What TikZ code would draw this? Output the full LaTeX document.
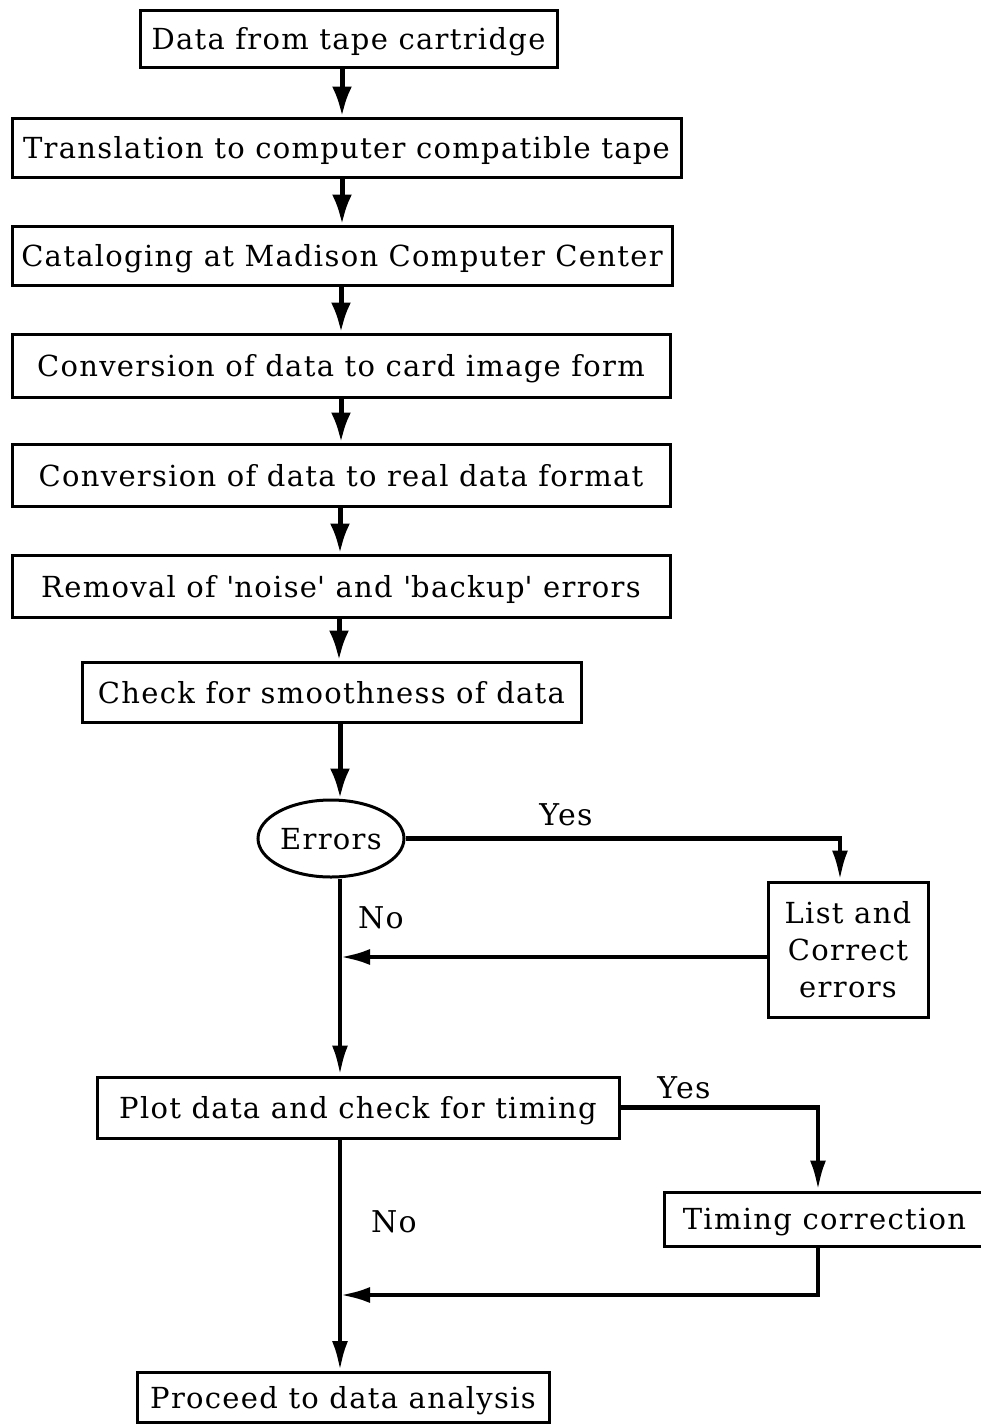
\documentclass[tikz,border=0pt]{standalone}
\usepackage{fontspec}
\setmainfont[LetterSpace=4.5]{DejaVu Serif}
\usetikzlibrary{arrows.meta,shapes.geometric}
\begin{document}
\begin{tikzpicture}[x=1pt,y=-1pt,
  box/.style={draw,line width=3pt,rectangle,inner sep=0pt,text depth=0pt,font=\fontsize{29}{36}\selectfont},
  lbl/.style={font=\fontsize{30}{36}\selectfont,inner sep=0pt},
  flow/.style={line width=5pt,-{Latex[length=30pt,width=20pt]}},
  flowb/.style={line width=4.5pt,-{Latex[length=30pt,width=16pt]}}]
\useasboundingbox (0,0) rectangle (981,1425);
\node[box,minimum width=417pt,minimum height=57pt] (b1) at (348.5,38.5) {Data from tape cartridge};
\node[box,minimum width=669pt,minimum height=59pt] (b2) at (346.5,147.5) {Translation to computer compatible tape};
\node[box,minimum width=660pt,minimum height=59pt] (b3) at (342,255.5) {Cataloging at Madison Computer Center};
\node[box,minimum width=658pt,minimum height=63pt] (b4) at (341,365.5) {Conversion of data to card image form};
\node[box,minimum width=658pt,minimum height=62pt] (b5) at (341,475) {Conversion of data to real data format};
\node[box,minimum width=658pt,minimum height=62pt] (b6) at (341,586) {Removal of \textquotesingle noise\textquotesingle{} and \textquotesingle backup\textquotesingle{} errors};
\node[box,minimum width=499pt,minimum height=60pt] (b7) at (331.5,692) {Check for smoothness of data};
\node[draw,line width=3pt,ellipse,inner sep=0pt,text depth=0pt,minimum width=146pt,minimum height=77pt,font=\fontsize{29}{36}\selectfont] (err) at (331,838.5) {Errors};
\node[box,minimum width=160pt,minimum height=135pt,align=center,font=\fontsize{29}{37}\selectfont] (lce) at (848,949.5) {List and\\Correct\\errors};
\node[box,minimum width=522pt,minimum height=61pt] (plot) at (358,1107.5) {Plot data and check for timing};
\node[box,minimum width=321pt,minimum height=54pt] (tc) at (824.5,1219) {Timing correction};
\node[box,minimum width=412pt,minimum height=50pt] (pro) at (343,1397.5) {Proceed to data analysis};
\node[lbl] (y1) at (566,815) {Yes};
\node[lbl] (n1) at (381,918) {No};
\node[lbl] (y2) at (684,1088) {Yes};
\node[lbl] (n2) at (394,1222) {No};
\coordinate (c1) at (840,838.5);
\coordinate (m1) at (340,957);
\coordinate (c2) at (818,1107.5);
\coordinate (c3) at (818,1295);
\coordinate (m2) at (340,1295);
\draw[flow] (b1.south -| 342,0) -- (b2.north -| 342,0);
\draw[flow] (b2.south -| 342,0) -- (b3.north -| 342,0);
\draw[flow] (b3.south -| 341,0) -- (b4.north -| 341,0);
\draw[flow] (b4.south -| 341,0) -- (b5.north -| 341,0);
\draw[flow] (b5.south -| 340,0) -- (b6.north -| 340,0);
\draw[flow] (b6.south -| 339,0) -- (b7.north -| 339,0);
\draw[flow] (b7.south -| 340,0) -- (err.north -| 340,0);
\draw[flowb] (err.east) -- (c1) -- (lce.north -| c1);
\draw[flowb] (lce.west |- m1) -- (m1);
\draw[flowb] (err.south -| 340,0) -- (plot.north -| 340,0);
\draw[flowb] (plot.east) -- (c2) -- (tc.north -| c2);
\draw[flowb] (tc.south -| c3) -- (c3) -- (m2);
\draw[flowb] (plot.south -| 340,0) -- (pro.north -| 340,0);
\end{tikzpicture}
\end{document}
